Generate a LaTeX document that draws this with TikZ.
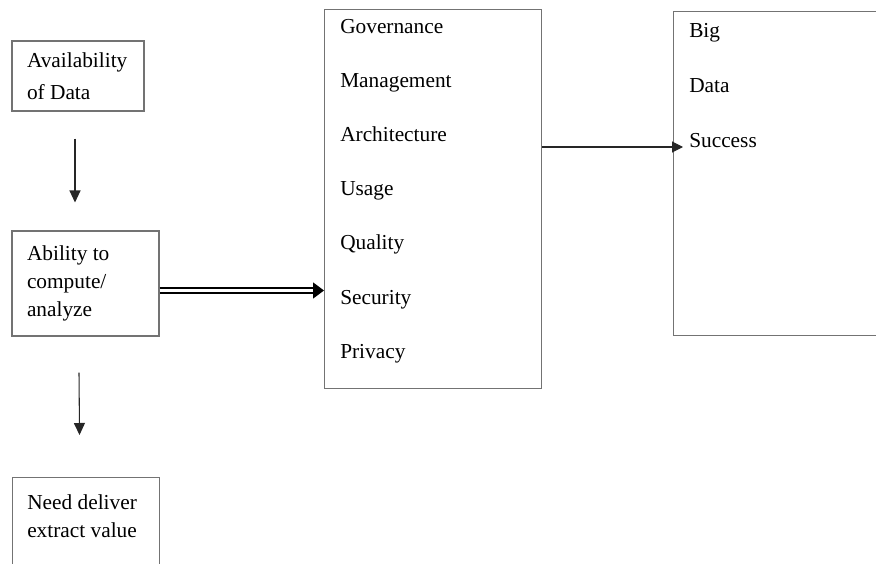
\documentclass[tikz,border=0pt]{standalone}
\usepackage{fontspec}
\setmainfont{Liberation Serif}
\usetikzlibrary{arrows.meta,positioning}
\tikzset{
    flow diagram/.style = {>={Triangle[length=9pt, width=8.25pt]}},
    box/.style          = {draw=black!55, line width=0.8pt, inner sep=0pt},
    textbox/.style      = {box, align=flush left, inner xsep=11.25pt,
                           font=\fontsize{16}{21}\selectfont},
    entry/.style        = {inner sep=0pt, anchor=base west,
                           font=\fontsize{16}{21}\selectfont},
    link/.style         = {->, line width=0.8pt, black!85},
    twin link/.style    = {-{Triangle[length=8.25pt, width=12pt]},
                           double, line width=1.1pt, double distance=2.4pt}
}

\begin{document}
\begin{tikzpicture}[flow diagram, x=0.75pt, y=-0.75pt]
\useasboundingbox (0,0) rectangle (876,564);

% Left column: data, ability, value
\node[textbox, minimum width=99pt, minimum height=52.5pt, text width=76.5pt]
    (avail) at (78,76) {Availability\\[3pt]of Data};
\node[textbox, minimum width=110.25pt, minimum height=78.75pt, text width=87.75pt]
    (ability) at (85.5,283.5) {Ability to\\compute/\\analyze};
\node[box, minimum width=110.25pt, minimum height=90pt, anchor=north west]
    (need) at (12,477) {};
\node[entry, anchor=north west, align=flush left] (needtext)
    at ([shift={(15,17.5)}]need.north west) {Need deliver\\extract value};

\draw[link] ([shift={(-3,27)}]avail.south) -- ([shift={(-10.5,-28)}]ability.north);
\draw[link] ([shift={(-6.5,36)}]ability.south) -- ([shift={(-6.5,-42)}]need.north);

% Middle column: the seven pillars
\node[box, minimum width=162.75pt, minimum height=284.25pt, anchor=north west]
    (pillars) at (324,9) {};
\foreach \word [count=\i from 0] in
    {Governance,Management,Architecture,Usage,Quality,Security,Privacy}
    \node[entry] (pillar\i) at ([shift={(16,24+54.2*\i)}]pillars.north west) {\word};

\coordinate (feed) at ([yshift=-5.25pt]ability.east);
\draw[twin link] (feed) -- (feed -| pillars.west);

% Right column: outcome
\node[box, minimum width=170pt, minimum height=243pt, anchor=north west]
    (outcome) at (673,11) {};
\foreach \word [count=\i from 0] in {Big,Data,Success}
    \node[entry] (outcome\i) at ([shift={(16,26+55*\i)}]outcome.north west) {\word};

\draw[link, -{Triangle[length=8.25pt, width=8.25pt]}]
    (pillars.east |- outcome2.base) -- ([xshift=7.5pt]outcome.west |- outcome2.base);

\end{tikzpicture}
\end{document}
